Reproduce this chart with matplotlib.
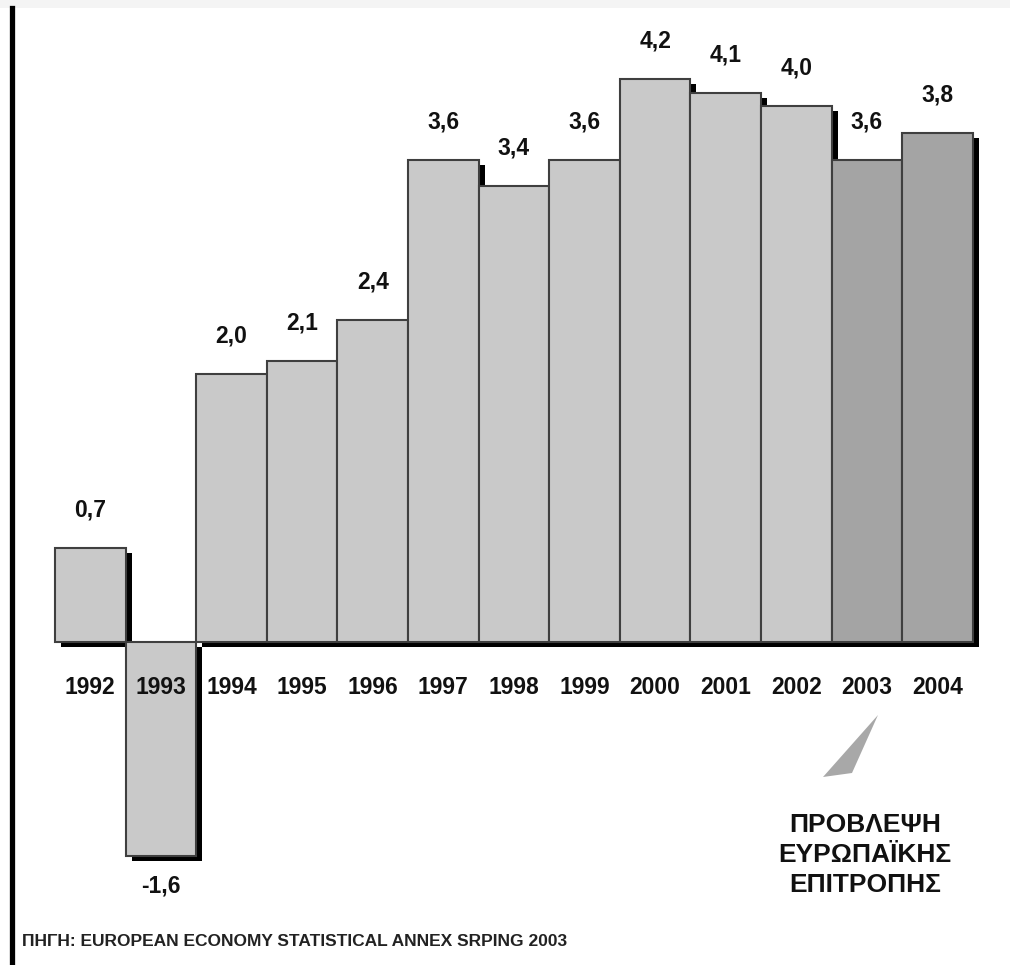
import matplotlib.pyplot as plt
from matplotlib.patches import Polygon, Rectangle
from matplotlib.lines import Line2D

years = ['1992', '1993', '1994', '1995', '1996', '1997', '1998', '1999',
         '2000', '2001', '2002', '2003', '2004']
growth = [0.7, -1.6, 2.0, 2.1, 2.4, 3.6, 3.4, 3.6, 4.2, 4.1, 4.0, 3.6, 3.8]
forecast = [False] * 11 + [True, True]
labels = [f"{v:.1f}".replace('.', ',') for v in growth]

note = "ΠΡΟΒΛΕΨΗ\nΕΥΡΩΠΑΪΚΗΣ\nΕΠΙΤΡΟΠΗΣ"
source = "ΠΗΓΗ: EUROPEAN ECONOMY STATISTICAL ANNEX SRPING 2003"

plt.rcParams['font.family'] = ['Liberation Sans', 'DejaVu Sans']
plt.rcParams['font.weight'] = 'bold'

W, H = 1010, 965
fig = plt.figure(figsize=(W / 100, H / 100), dpi=100)
ax = fig.add_axes([0, 0, 1, 1])

# pixel geometry of the original
bar_px = 70.6
left_px = 55
base_px = 642
unit_px = 134
ax.set_xlim(-0.5 - left_px / bar_px, -0.5 + (W - left_px) / bar_px)
ax.set_ylim(-(H - base_px) / unit_px, base_px / unit_px)
ax.axis('off')

x = list(range(len(years)))
colors = ['#a4a4a4' if f else '#c9c9c9' for f in forecast]

# drop shadows
dx, dy = 6 / bar_px, 5 / unit_px
ax.bar([i + dx for i in x], growth, width=1.0, bottom=-dy, color='black',
       linewidth=0, zorder=1)
ax.bar(x, growth, width=1.0, color=colors, edgecolor='#3f3f3f',
       linewidth=1.5, zorder=2)

px2pt = 0.72
for i, (v, lab) in enumerate(zip(growth, labels)):
    off = 38 if v >= 0 else -30
    ax.annotate(lab, (i, v), xytext=(0, off * px2pt), textcoords='offset points',
                ha='center', va='center', fontsize=16.5, fontweight='bold',
                color='#111111')
    ax.annotate(years[i], (i, 0), xytext=(0, -46 * px2pt), textcoords='offset points',
                ha='center', va='center', fontsize=16.5, fontweight='bold',
                color='#111111')

# forecast pointer wedge
wedge = Polygon([(878 / W, 1 - 715 / H), (823 / W, 1 - 777 / H), (852 / W, 1 - 773 / H)],
                closed=True, transform=fig.transFigure, facecolor='#a8a8a8',
                edgecolor='none')
fig.patches.append(wedge)

fig.text(865 / W, 1 - 855 / H, note, ha='center', va='center', fontsize=19,
         fontweight='bold', linespacing=1.3, color='#111111')

fig.text(22 / W, 1 - 941 / H, source, ha='left', va='center', fontsize=12.5,
         fontweight='bold', color='#222222')

# frame bits of the scanned page
fig.lines.append(Line2D([11.5 / W, 11.5 / W], [0, 1 - 8 / H], transform=fig.transFigure,
                        color='black', linewidth=3.8))
fig.patches.append(Rectangle((0, 1 - 8 / H), 1, 8 / H, transform=fig.transFigure,
                             facecolor='#f4f4f4', edgecolor='none'))

fig.savefig('out.png', dpi=100)
